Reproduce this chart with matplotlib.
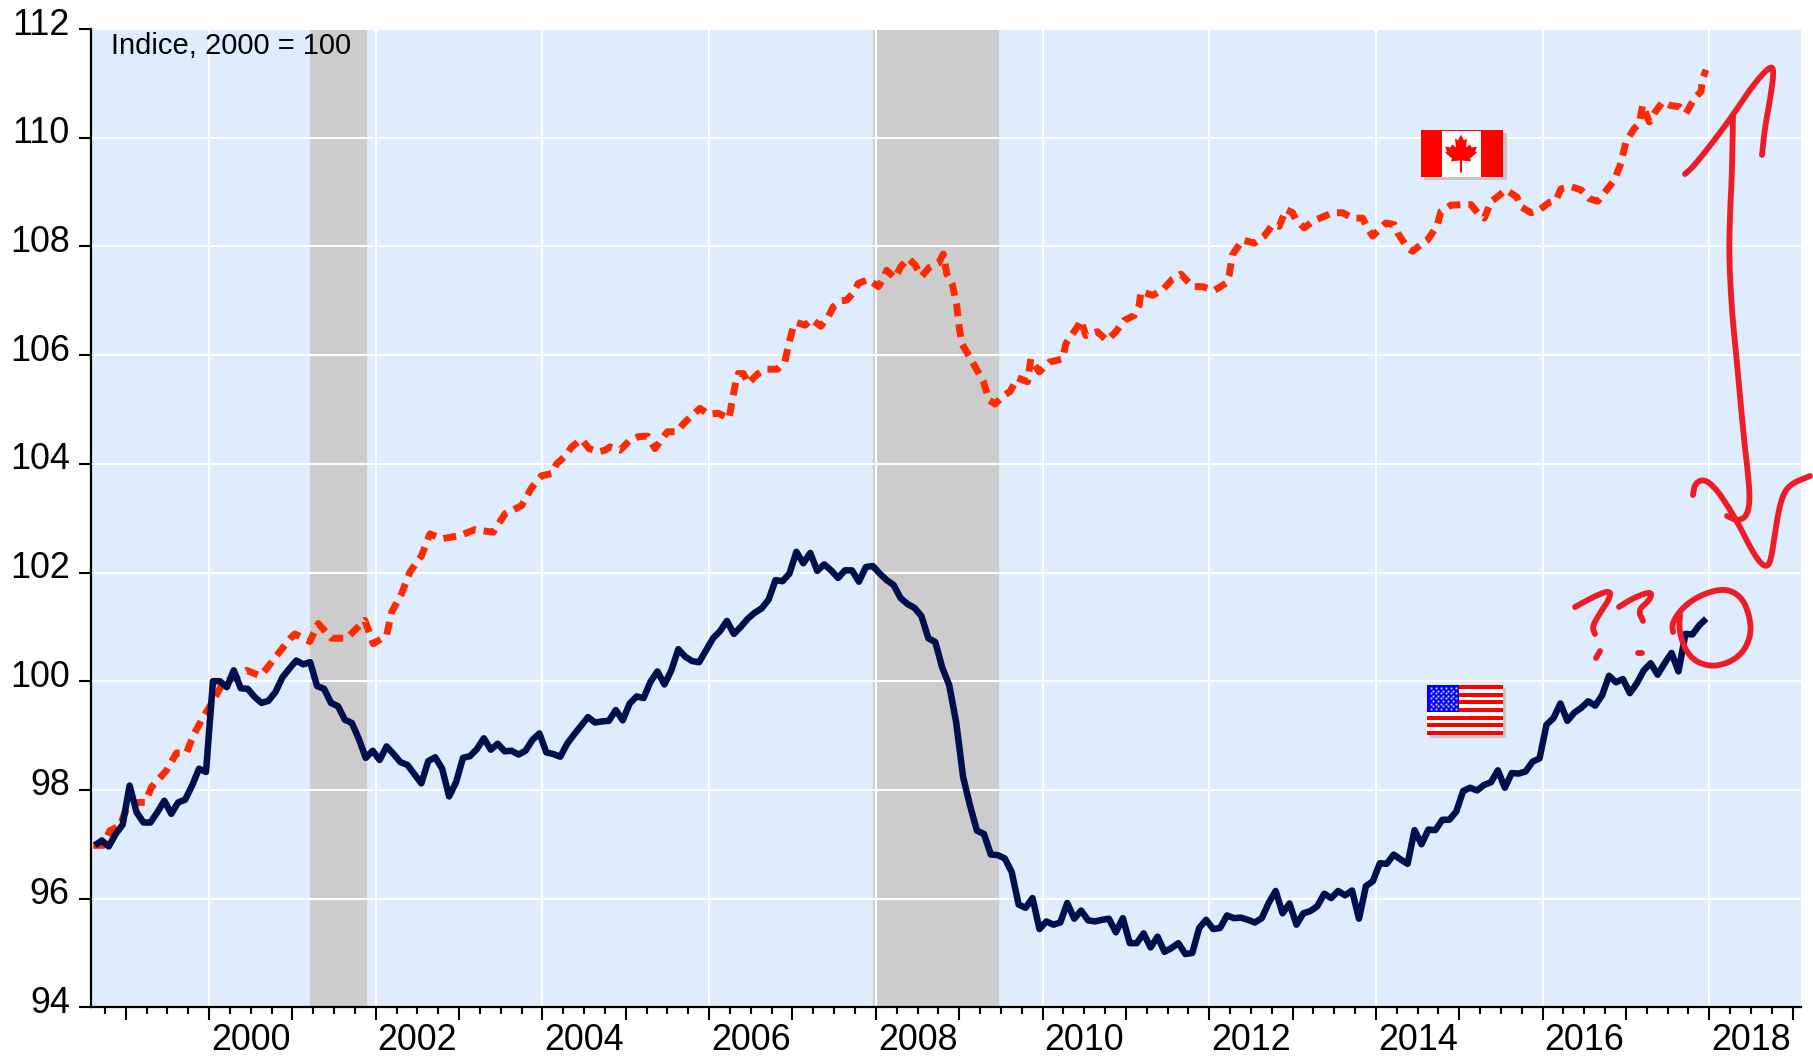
import numpy as np
import matplotlib
matplotlib.use('Agg')
import matplotlib.pyplot as plt
from matplotlib.patches import Rectangle, Polygon
from matplotlib.ticker import FixedLocator, MultipleLocator
from matplotlib.transforms import ScaledTranslation

plt.rcParams['font.family'] = ['Liberation Sans', 'DejaVu Sans']

# monthly index, first month about 1998.63
start_year = 1998.63
usa = [96.98, 97.07, 96.96, 97.19, 97.36, 98.08, 97.59, 97.40, 97.40, 97.59, 97.80, 97.56, 97.77, 97.82,
       98.08, 98.39, 98.33, 100.0, 100.0, 99.89, 100.2, 99.87, 99.86, 99.71, 99.6, 99.64, 99.8, 100.07,
       100.23, 100.38, 100.31, 100.35, 99.91, 99.86, 99.6, 99.54, 99.29, 99.23, 98.94, 98.59, 98.72, 98.55,
       98.8, 98.66, 98.51, 98.46, 98.29, 98.12, 98.53, 98.6, 98.39, 97.88, 98.14, 98.59, 98.62, 98.75,
       98.95, 98.74, 98.85, 98.71, 98.72, 98.65, 98.72, 98.92, 99.04, 98.69, 98.66, 98.61,
       98.85, 99.02, 99.18, 99.34, 99.24, 99.26, 99.27, 99.47, 99.28, 99.59, 99.72, 99.69, 99.99, 100.18,
       99.94, 100.2, 100.59, 100.45, 100.37, 100.35, 100.57, 100.79, 100.92, 101.11, 100.87, 101.0, 101.15,
       101.26, 101.34, 101.5, 101.86, 101.84, 101.98, 102.38, 102.17, 102.36, 102.03, 102.15, 102.04, 101.9,
       102.04, 102.04, 101.83, 102.1, 102.12, 101.98, 101.86, 101.77, 101.53, 101.42, 101.35, 101.2, 100.79,
       100.72, 100.25, 99.93, 99.25, 98.24,
       97.71, 97.25, 97.19, 96.81, 96.8, 96.74, 96.49, 95.89, 95.83, 96.01, 95.44, 95.58, 95.52, 95.56,
       95.92, 95.63, 95.78, 95.6, 95.58, 95.61, 95.63, 95.38, 95.64, 95.18, 95.18, 95.36, 95.1, 95.3, 95.02,
       95.09, 95.18, 94.98, 95.0, 95.46, 95.61, 95.44, 95.46, 95.69, 95.64, 95.65, 95.61, 95.56, 95.64,
       95.92, 96.14, 95.73, 95.91, 95.52, 95.73, 95.77, 95.86, 96.09, 96.01, 96.14, 96.06, 96.15, 95.63,
       96.23, 96.32, 96.65,
       96.64, 96.81, 96.72, 96.64, 97.26, 97.0, 97.27, 97.26, 97.45, 97.45, 97.6, 97.98, 98.04, 97.99,
       98.09, 98.14, 98.36, 98.04, 98.31, 98.3, 98.34, 98.52, 98.58, 99.2, 99.32, 99.59, 99.27, 99.42,
       99.51, 99.63, 99.55, 99.74, 100.1, 99.98, 100.04, 99.78, 99.96, 100.2, 100.33, 100.12, 100.33,
       100.52, 100.18, 100.87, 100.86, 101.03, 101.15]

# canada read off the dashes, so the dates are not regular
can_years = [1998.61, 1998.73, 1998.81, 1998.93, 1999.01, 1999.15, 1999.23, 1999.31, 1999.49, 1999.61, 1999.73,
             1999.81, 1999.93, 2000.05, 2000.17, 2000.27, 2000.45, 2000.61, 2000.69, 2000.81, 2000.97, 2001.03,
             2001.21, 2001.31, 2001.47, 2001.65, 2001.87, 2001.97, 2002.13, 2002.19, 2002.31, 2002.41, 2002.55,
             2002.65, 2002.79, 2003.01, 2003.19, 2003.41, 2003.55, 2003.75,
             2003.87, 2003.99, 2004.11, 2004.17, 2004.28, 2004.35, 2004.47, 2004.56, 2004.67, 2004.75, 2004.81,
             2004.93, 2005.04, 2005.15, 2005.26, 2005.35, 2005.43, 2005.5, 2005.61, 2005.7, 2005.81, 2005.89,
             2005.99, 2006.11, 2006.24, 2006.27, 2006.32, 2006.35, 2006.41, 2006.47, 2006.58, 2006.69, 2006.82,
             2006.91, 2006.95, 2007.01, 2007.05, 2007.15, 2007.23, 2007.34, 2007.43, 2007.49, 2007.59, 2007.65,
             2007.72, 2007.79, 2007.91, 2008.03, 2008.09, 2008.13, 2008.23, 2008.3, 2008.39, 2008.47, 2008.55,
             2008.64, 2008.75, 2008.81, 2008.85, 2008.92, 2008.97, 2009.0, 2009.03, 2009.09, 2009.19, 2009.29,
             2009.36, 2009.43, 2009.53, 2009.61,
             2009.7, 2009.82, 2009.86, 2009.96, 2010.08, 2010.24, 2010.28, 2010.43, 2010.46, 2010.52, 2010.66,
             2010.77, 2010.88, 2010.98, 2011.1, 2011.16, 2011.18, 2011.32, 2011.44, 2011.56, 2011.66, 2011.8,
             2011.92, 2012.06, 2012.2, 2012.24, 2012.28, 2012.4, 2012.54, 2012.66, 2012.76, 2012.84, 2012.92,
             2013.0, 2013.04, 2013.14, 2013.24, 2013.36, 2013.48, 2013.6, 2013.72, 2013.84, 2013.9, 2013.96,
             2014.06, 2014.12, 2014.22, 2014.26, 2014.38, 2014.44, 2014.56, 2014.62,
             2014.7, 2014.74, 2014.78, 2014.9, 2015.14, 2015.24, 2015.3, 2015.38, 2015.48, 2015.56, 2015.69,
             2015.74, 2015.86, 2015.96, 2016.08, 2016.16, 2016.22, 2016.34, 2016.46, 2016.56, 2016.66, 2016.8,
             2016.86, 2016.94, 2017.0, 2017.1, 2017.16, 2017.2, 2017.28, 2017.34, 2017.44, 2017.54, 2017.64,
             2017.72, 2017.82, 2017.9, 2017.92, 2017.96]
can_vals = [96.98, 96.98, 97.25, 97.34, 97.65, 97.77, 97.77, 98.05, 98.36, 98.68, 98.68, 99.0, 99.34, 99.64, 99.98,
            100.04, 100.2, 100.1, 100.23, 100.47, 100.78, 100.87, 100.73, 101.06, 100.79, 100.79, 101.12, 100.69,
            100.84, 101.27, 101.61, 102.01, 102.31, 102.71, 102.62, 102.68, 102.79, 102.74, 103.08, 103.23,
            103.56, 103.78, 103.82, 104.0, 104.15, 104.31, 104.45, 104.28, 104.22, 104.25, 104.31, 104.25, 104.42,
            104.5, 104.51, 104.28, 104.45, 104.59, 104.59, 104.75, 104.91, 105.02, 104.91, 104.93, 104.83, 105.11,
            105.51, 105.66, 105.66, 105.48, 105.65, 105.74, 105.74, 105.88, 106.18, 106.52, 106.6, 106.55, 106.66,
            106.53, 106.71, 106.89, 107.0, 107.01, 107.13, 107.32, 107.39, 107.26, 107.41, 107.56, 107.42, 107.63,
            107.78, 107.66, 107.45, 107.61, 107.69, 107.86, 107.5, 107.29, 106.92, 106.52, 106.21, 106.06, 105.79,
            105.51, 105.17, 105.1, 105.25, 105.33,
            105.58, 105.51, 105.93, 105.69, 105.87, 105.93, 106.21, 106.55, 106.64, 106.36, 106.43, 106.27, 106.43,
            106.64, 106.73, 106.92, 107.17, 107.1, 107.2, 107.4, 107.49, 107.26, 107.26, 107.19, 107.32, 107.48,
            107.85, 108.12, 108.06, 108.19, 108.4, 108.37, 108.68, 108.62, 108.49, 108.34, 108.46, 108.54, 108.62,
            108.62, 108.52, 108.52, 108.34, 108.19, 108.34, 108.43, 108.4, 108.25, 107.97, 107.91, 108.06, 108.12,
            108.3, 108.42, 108.64, 108.76, 108.77, 108.58, 108.52, 108.82, 108.94, 109.04, 108.91, 108.73, 108.62,
            108.67, 108.81, 108.85, 109.06, 109.1, 109.04, 108.88, 108.83, 109.1, 109.22, 109.53, 109.93, 110.17,
            110.26, 110.6, 110.29, 110.45, 110.66, 110.59, 110.57, 110.45, 110.72, 110.85, 111.09, 111.25]

recessions = [(2001.21, 2001.89), (2007.97, 2009.48)]
y_ticks = list(range(94, 113, 2))
label_years = list(range(2000, 2019, 2))

# hand drawn marks on the picture, in image pixels
pen_strokes = [
    [(1685, 174), (1693, 167), (1713, 142), (1733, 115), (1753, 85), (1771, 65), (1774, 72), (1770, 100), (1765, 127), (1762, 155)],
    [(1733, 115), (1732, 173), (1730, 213), (1729, 257), (1732, 313), (1737, 363), (1744, 440), (1748, 473), (1750, 500), (1747, 516), (1738, 521), (1727, 516)],
    [(1693, 495), (1695, 483), (1705, 479), (1717, 490), (1727, 505), (1738, 523), (1750, 547), (1760, 563), (1767, 567), (1771, 560), (1775, 533), (1780, 503), (1788, 485), (1810, 476)],
    [(1575, 607), (1593, 597), (1610, 590), (1610, 598), (1600, 613), (1592, 627), (1595, 634)],
    [(1600, 651), (1596, 658)],
    [(1619, 607), (1633, 598), (1652, 591), (1650, 600), (1638, 610), (1643, 621)],
    [(1638, 653), (1642, 653)],
    [(1673, 632), (1672, 623), (1682, 608), (1700, 595), (1725, 588), (1742, 597), (1750, 617), (1751, 637), (1740, 657), (1717, 667), (1697, 663), (1685, 650), (1679, 630), (1680, 615)],
]
leaf = [(0, -19), (3, -13), (6, -15), (5, -6), (9, -9), (10.5, -6), (16, -7), (14, -2), (16, -1), (9, 5), (10, 8), (1, 7),
        (1, 19), (-1, 19), (-1, 7), (-10, 8), (-9, 5), (-16, -1), (-14, -2), (-16, -7), (-10.5, -6), (-9, -9), (-5, -6), (-6, -15), (-3, -13)]


def smooth(points, rounds=3):
    # corner cutting, just so the pen marks are not angular
    p = np.array(points, dtype=float)
    for _ in range(rounds):
        q = 0.75 * p[:-1] + 0.25 * p[1:]
        r = 0.25 * p[:-1] + 0.75 * p[1:]
        mid = np.empty((len(q) * 2, 2))
        mid[0::2] = q
        mid[1::2] = r
        p = np.vstack([p[0], mid, p[-1]])
    return p


W, H = 1813, 1057
fig = plt.figure(figsize=(W / 100, H / 100), dpi=100)
ax = fig.add_axes([90.7 / W, 1 - 1007.3 / H, (1801 - 90.7) / W, (1007.3 - 29) / H])
ax.set_facecolor('#DEECFE')
ax.set_xlim(1998.58, 2019.10)
ax.set_ylim(94, 112)

for a, b in recessions:
    ax.axvspan(a, b, color='#CCCCCC', lw=0, zorder=1)
# vertical grid only on the labelled years
for y in y_ticks:
    ax.axhline(y, color='white', lw=1.5, zorder=2)
for y in label_years:
    ax.axvline(y, color='white', lw=1.5, zorder=2)

usa_years = start_year + np.arange(len(usa)) / 12
ax.plot(can_years, can_vals, color='#FF2A00', lw=5.0, dashes=(1.85, 1.15), dash_capstyle='butt', zorder=3)
ax.plot(usa_years, usa, color='#00104F', lw=4.7, solid_joinstyle='round', solid_capstyle='butt', zorder=4)

for s in ['top', 'right']:
    ax.spines[s].set_visible(False)
for s in ['left', 'bottom']:
    ax.spines[s].set_linewidth(1.6)
    ax.spines[s].set_zorder(5)

ax.set_yticks(y_ticks)
ax.xaxis.set_major_locator(FixedLocator(list(range(1999, 2020))))
ax.xaxis.set_minor_locator(MultipleLocator(0.25))
ax.set_xticklabels([str(y) if y in label_years else '' for y in range(1999, 2020)])
ax.tick_params(axis='y', length=9, width=1.5, labelsize=25.8, pad=6)
ax.tick_params(axis='x', which='major', length=9, width=1.5, labelsize=25.8, pad=2.5)
ax.tick_params(axis='x', which='minor', length=5, width=1.5)

# labels sit in the middle of the year, and a bit above the y ticks
x_shift = ScaledTranslation(41.7 / 100, 0, fig.dpi_scale_trans)
y_shift = ScaledTranslation(0, 8 / 100, fig.dpi_scale_trans)
for lab in ax.get_xticklabels():
    lab.set_transform(lab.get_transform() + x_shift)
for lab in ax.get_yticklabels():
    lab.set_transform(lab.get_transform() + y_shift)

ax.text(0.0118, 0.997, 'Indice, 2000 = 100', transform=ax.transAxes, fontsize=21, va='top', ha='left', zorder=6)

# overlay in image pixels for the flags and the pen marks
ov = fig.add_axes([0, 0, 1, 1])
ov.set_xlim(0, W)
ov.set_ylim(H, 0)
ov.axis('off')

# canada flag
ov.add_patch(Rectangle((1424, 133), 82.5, 46.5, color='#C9C4C4', lw=0))
ov.add_patch(Rectangle((1420.7, 130.3), 82.3, 46.4, color='#FF0000', lw=0))
ov.add_patch(Rectangle((1442, 131), 39, 45.5, color='white', lw=0))
ov.add_patch(Polygon([(1461 + lx, 153.5 + ly) for lx, ly in leaf], closed=True, color='#FF0000', lw=0))

# us flag
ov.add_patch(Rectangle((1430, 688), 76, 50, color='#C9C4C4', lw=0))
ov.add_patch(Rectangle((1427, 685), 76, 50, color='white', lw=0))
for i in range(7):
    ov.add_patch(Rectangle((1427, 685 + i * 2 * 50 / 13), 76, 50 / 13, color='#FF0000', lw=0))
ov.add_patch(Rectangle((1427, 685), 32, 26.7, color='#0000FF', lw=0))
for row in range(9):
    n = 6 if row % 2 == 0 else 5
    for col in range(n):
        ov.plot(1430.5 + col * 5 + (0 if row % 2 == 0 else 2.5), 688 + row * 2.6, 's', ms=1.3, color='#DDDDFF', mew=0)

for stroke in pen_strokes:
    p = smooth(stroke)
    ov.plot(p[:, 0], p[:, 1], color='#EE1C25', lw=4.2, solid_capstyle='round', solid_joinstyle='round')

fig.savefig('out.png', dpi=100)
